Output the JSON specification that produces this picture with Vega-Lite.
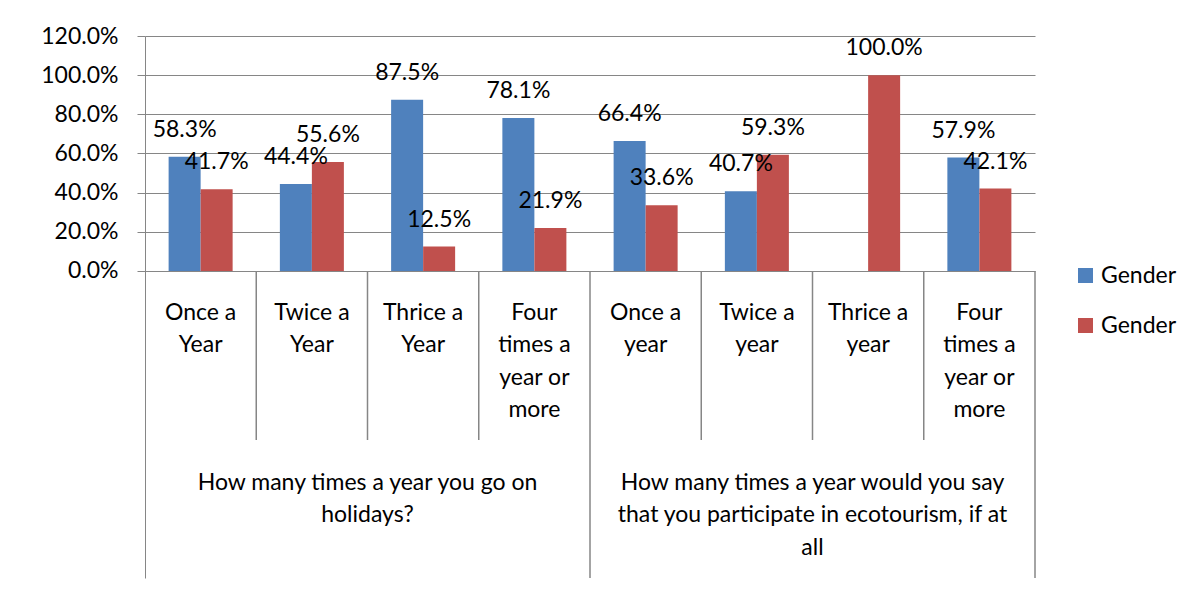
{
  "$schema": "https://vega.github.io/schema/vega-lite/v6.json",
  "width": 890,
  "height": 542,
  "autosize": {"type": "none"},
  "padding": {"left": 145, "top": 36, "right": 166, "bottom": 12},
  "background": "white",
  "config": {
    "view": {"stroke": null},
    "font": "Lato",
    "axisY": {
      "labelFont": "Lato",
      "labelFontSize": 23,
      "labelColor": "#000000",
      "tickColor": "#868686",
      "domainColor": "#868686",
      "gridColor": "#868686",
      "gridOpacity": 1,
      "tickSize": 8,
      "labelPadding": 19,
      "title": null
    }
  },
  "datasets": {
    "bars": [
      {"cat": "c1", "series": "s1", "value": 0.583},
      {"cat": "c1", "series": "s2", "value": 0.417},
      {"cat": "c2", "series": "s1", "value": 0.444},
      {"cat": "c2", "series": "s2", "value": 0.556},
      {"cat": "c3", "series": "s1", "value": 0.875},
      {"cat": "c3", "series": "s2", "value": 0.125},
      {"cat": "c4", "series": "s1", "value": 0.781},
      {"cat": "c4", "series": "s2", "value": 0.219},
      {"cat": "c5", "series": "s1", "value": 0.664},
      {"cat": "c5", "series": "s2", "value": 0.336},
      {"cat": "c6", "series": "s1", "value": 0.407},
      {"cat": "c6", "series": "s2", "value": 0.593},
      {"cat": "c7", "series": "s1", "value": 0},
      {"cat": "c7", "series": "s2", "value": 1.0},
      {"cat": "c8", "series": "s1", "value": 0.579},
      {"cat": "c8", "series": "s2", "value": 0.421}
    ],
    "cats": [
      {"cat": "c1", "label": "Once a\nYear"},
      {"cat": "c2", "label": "Twice a\nYear"},
      {"cat": "c3", "label": "Thrice a\nYear"},
      {"cat": "c4", "label": "Four\ntimes a\nyear or\nmore"},
      {"cat": "c5", "label": "Once a\nyear"},
      {"cat": "c6", "label": "Twice a\nyear"},
      {"cat": "c7", "label": "Thrice a\nyear"},
      {"cat": "c8", "label": "Four\ntimes a\nyear or\nmore"}
    ],
    "groups": [
      {"cat": "c3", "label": "How many times a year you go on\nholidays?"},
      {"cat": "c7", "label": "How many times a year would you say\nthat you participate in ecotourism, if at\nall"}
    ],
    "seps": [
      {"cat": "c2"}, {"cat": "c3"}, {"cat": "c4"},
      {"cat": "c6"}, {"cat": "c7"}, {"cat": "c8"}
    ],
    "gseps": [
      {"cat": "c5"}
    ],
    "gend": [
      {"cat": "c8"}
    ]
  },
  "layer": [
    {
      "data": {"name": "bars"},
      "mark": {"type": "bar"},
      "encoding": {
        "x": {"field": "cat", "type": "nominal", "axis": null,
              "scale": {"domain": ["c1","c2","c3","c4","c5","c6","c7","c8"], "paddingInner": 0, "paddingOuter": 0}},
        "xOffset": {"field": "series", "type": "nominal",
              "scale": {"domain": ["s1","s2"], "paddingInner": 0, "paddingOuter": 0.738}},
        "y": {"field": "value", "type": "quantitative",
              "scale": {"domain": [-1.5677, 1.2], "nice": false, "zero": false},
              "axis": {"values": [0, 0.2, 0.4, 0.6, 0.8, 1.0, 1.2], "format": ".1%", "title": null, "grid": true}},
        "color": {"field": "series", "type": "nominal",
              "scale": {"domain": ["s1","s2"], "range": ["#4F81BD", "#C0504D"]},
              "legend": {
                "orient": "none", "legendX": 929, "legendY": 228,
                "title": null, "labelExpr": "'Gender'",
                "symbolType": "square", "symbolSize": 225, "symbolStrokeWidth": 0,
                "labelFont": "Lato", "labelFontSize": 23, "labelColor": "#000000",
                "labelOffset": 4, "rowPadding": 26, "padding": 0
              }}
      }
    },
    {
      "data": {"name": "bars"},
      "transform": [{"filter": "datum.value > 0"}],
      "mark": {"type": "text", "dy": -27, "baseline": "middle", "align": "center", "fontSize": 23, "font": "Lato", "color": "#000000"},
      "encoding": {
        "x": {"field": "cat", "type": "nominal"},
        "xOffset": {"field": "series", "type": "nominal"},
        "y": {"field": "value", "type": "quantitative", "axis": {"values": [0, 0.2, 0.4, 0.6, 0.8, 1.0, 1.2], "format": ".1%", "title": null, "grid": true}},
        "text": {"field": "value", "type": "quantitative", "format": ".1%"}
      }
    },
    {
      "data": {"name": "cats"},
      "mark": {"type": "text", "baseline": "alphabetic", "align": "center", "fontSize": 23, "font": "Lato", "color": "#000000", "lineBreak": "\n", "lineHeight": 32.5},
      "encoding": {
        "x": {"field": "cat", "type": "nominal"},
        "y": {"datum": -0.2502, "type": "quantitative"},
        "text": {"field": "label", "type": "nominal"}
      }
    },
    {
      "data": {"name": "groups"},
      "mark": {"type": "text", "baseline": "alphabetic", "align": "center", "fontSize": 23, "font": "Lato", "color": "#000000", "lineBreak": "\n", "lineHeight": 32.5},
      "encoding": {
        "x": {"field": "cat", "type": "nominal", "bandPosition": 0},
        "y": {"datum": -1.1183, "type": "quantitative"},
        "text": {"field": "label", "type": "nominal"}
      }
    },
    {
      "data": {"name": "seps"},
      "mark": {"type": "rule", "color": "#868686", "strokeWidth": 1.5},
      "encoding": {
        "x": {"field": "cat", "type": "nominal", "bandPosition": 0},
        "y": {"datum": 0, "type": "quantitative"},
        "y2": {"datum": -0.863}
      }
    },
    {
      "data": {"name": "gseps"},
      "mark": {"type": "rule", "color": "#868686", "strokeWidth": 1.5},
      "encoding": {
        "x": {"field": "cat", "type": "nominal", "bandPosition": 0},
        "y": {"datum": 0, "type": "quantitative"},
        "y2": {"datum": -1.5677}
      }
    },
    {
      "data": {"name": "gend"},
      "mark": {"type": "rule", "color": "#868686", "strokeWidth": 1.5},
      "encoding": {
        "x": {"field": "cat", "type": "nominal", "bandPosition": 1},
        "y": {"datum": 0, "type": "quantitative"},
        "y2": {"datum": -1.5677}
      }
    }
  ]
}
